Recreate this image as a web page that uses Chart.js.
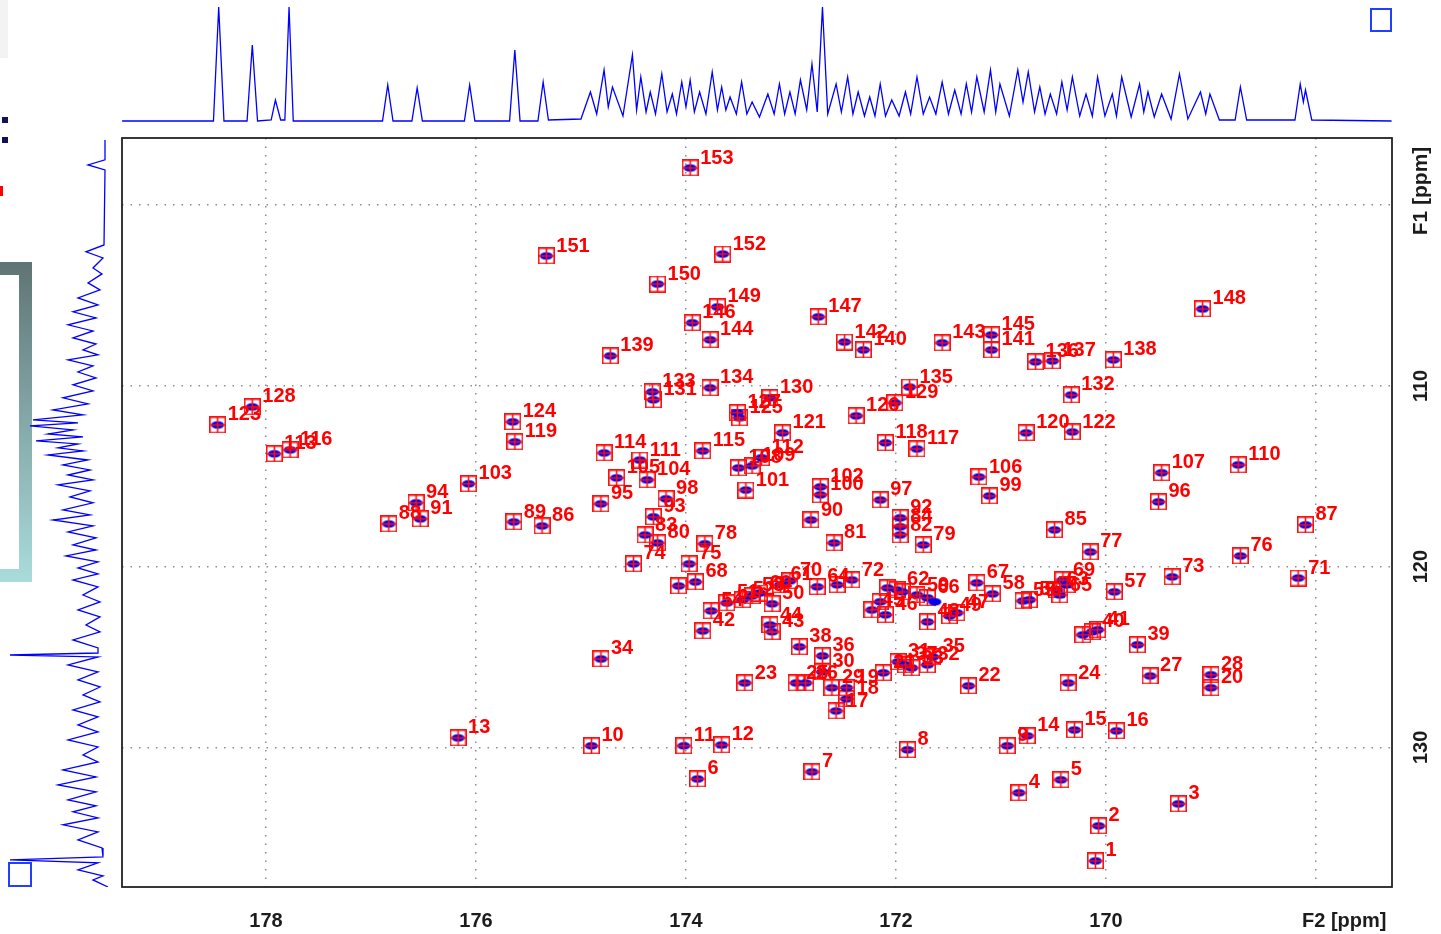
<!DOCTYPE html>
<html>
<head>
<meta charset="utf-8">
<script src="https://cdn.jsdelivr.net/npm/chart.js@4.4.0/dist/chart.umd.min.js"></script>
<style>
  html, body { margin: 0; padding: 0; background: #fff; }
  body { width: 1441px; height: 934px; position: relative; overflow: hidden; }
  canvas { position: absolute; }
  #main { left: 0; top: 0; }
  #top { left: 122px; top: 0; }
  #side { left: 0; top: 138px; }
  .deco { position: absolute; box-sizing: border-box; }
</style>
</head>
<body>
<div class="deco" style="left:0;top:0;width:8px;height:58px;background:#f3f3f3"></div>
<div class="deco" style="left:0;top:262px;width:32px;height:320px;background:linear-gradient(#5f7474,#aadcdc)"></div>
<div class="deco" style="left:0;top:275px;width:19px;height:294px;background:#fff"></div>
<div class="deco" style="left:2px;top:117px;width:6px;height:6px;background:#101060"></div>
<div class="deco" style="left:2px;top:137px;width:6px;height:6px;background:#101060"></div>
<div class="deco" style="left:0;top:186px;width:3px;height:10px;background:#f00"></div>
<div class="deco" style="left:1370px;top:8px;width:22px;height:24px;border:2px solid #2040ff"></div>
<div class="deco" style="left:8px;top:862px;width:24px;height:25px;border:2px solid #2040ff"></div>
<canvas id="main" width="1441" height="934"></canvas>
<canvas id="top" width="1270" height="125"></canvas>
<canvas id="side" width="122" height="749"></canvas>
<script>
// axis tick values
const f2Ticks = [178, 176, 174, 172, 170];
const f1Ticks = [110, 120, 130];
const f2Grid = [178, 176, 174, 172, 170, 168];
const f1Grid = [100, 110, 120, 130];

// picked peaks, peak n is at index n-1 (F2 ppm, F1 ppm)
const peakF2 = [
  170.10, 170.07, 169.31, 170.83, 170.43, 173.89, 172.80, 171.89, 170.94, 174.90,
  174.02, 173.66, 176.17, 170.75, 170.30, 169.90, 172.57, 172.47, 172.47, 169.00,
  172.12, 171.31, 173.44, 170.36, 172.95, 172.86, 169.58, 169.00, 172.61, 172.70,
  171.98, 171.70, 171.85, 174.81, 171.65, 172.70, 171.91, 172.92, 169.70, 170.13,
  170.08, 173.84, 173.18, 173.20, 172.23, 172.10, 171.42, 171.70, 171.49, 173.18,
  173.61, 173.46, 173.37, 173.76, 170.79, 170.73, 169.92, 171.08, 171.80, 173.30,
  173.10, 171.99, 170.47, 172.75, 170.44, 171.70, 171.23, 173.91, 170.41, 173.01,
  168.17, 172.42, 169.37, 174.50, 173.97, 168.72, 170.15, 173.82, 171.74, 174.27,
  172.59, 171.96, 174.39, 171.96, 170.49, 175.37, 168.10, 176.83, 175.64, 172.81,
  176.53, 171.96, 174.31, 176.57, 174.81, 169.50, 172.15, 174.19, 171.11, 172.72,
  173.43, 172.72, 176.07, 174.37, 174.66, 171.21, 169.47, 173.50, 173.37, 168.74,
  174.44, 173.28, 177.92, 174.78, 173.84, 177.77, 171.80, 172.10, 175.63, 170.76,
  173.08, 170.32, 178.46, 175.65, 173.49, 172.38, 173.51, 178.13, 172.01, 173.20,
  174.31, 170.33, 174.32, 173.77, 171.87, 170.67, 170.51, 169.93, 174.72, 172.31,
  171.09, 172.49, 171.56, 173.77, 171.09, 173.94, 172.74, 169.08, 173.70, 174.27,
  175.33, 173.65, 173.96
];
const peakF1 = [
  136.29, 134.35, 133.13, 132.52, 131.80, 131.75, 131.36, 130.14, 129.92, 129.92,
  129.92, 129.87, 129.48, 129.37, 129.04, 129.09, 127.99, 127.32, 126.71, 126.71,
  125.88, 126.60, 126.44, 126.44, 126.44, 126.44, 126.05, 125.99, 126.71, 125.83,
  125.27, 125.44, 125.61, 125.11, 125.00, 124.94, 125.44, 124.44, 124.33, 123.61,
  123.50, 123.56, 123.61, 123.23, 122.40, 122.67, 122.56, 123.06, 122.73, 122.06,
  122.01, 121.84, 121.62, 122.45, 121.90, 121.84, 121.40, 121.51, 121.57, 121.46,
  121.01, 121.29, 121.29, 121.12, 121.57, 121.73, 120.90, 120.85, 120.74, 120.79,
  120.63, 120.74, 120.57, 119.85, 119.85, 119.41, 119.19, 118.74, 118.80, 118.69,
  118.69, 118.25, 118.25, 117.80, 117.97, 117.75, 117.69, 117.64, 117.53, 117.42,
  117.36, 117.30, 117.25, 116.47, 116.53, 116.42, 116.31, 116.25, 116.09, 116.03,
  115.76, 115.59, 115.42, 115.20, 115.09, 115.04, 114.81, 114.54, 114.43, 114.37,
  114.10, 113.98, 113.76, 113.71, 113.60, 113.54, 113.49, 113.15, 113.10, 112.60,
  112.60, 112.55, 112.16, 111.99, 111.77, 111.66, 111.49, 111.16, 110.94, 110.66,
  110.77, 110.50, 110.33, 110.11, 110.06, 108.67, 108.62, 108.56, 108.34, 108.01,
  108.01, 107.57, 107.62, 107.45, 107.18, 106.51, 106.18, 105.74, 105.63, 104.36,
  102.81, 102.70, 97.94
];
// boxes whose labels are hidden under neighbours
const extraF2 = [174.07, 172.56, 172.08, 171.94, 172.15, 170.37, 170.22];
const extraF1 = [121.07, 121.01, 121.18, 121.40, 121.95, 121.01, 123.78];
// contour without a box
const loneF2 = [171.63];
const loneF1 = [121.95];

// F2 projection (top): ppm and height
const topF2 = [
  179.37, 178.50, 178.45, 178.40, 178.18, 178.13, 178.08, 177.95, 177.91, 177.86,
  177.82, 177.78, 177.74, 176.89, 176.84, 176.79, 176.61, 176.56, 176.51, 176.11,
  176.06, 176.01, 175.68, 175.63, 175.58, 175.41, 175.36, 175.31, 175.00,
  174.91, 174.85, 174.78, 174.74, 174.70, 174.60, 174.51, 174.47, 174.43, 174.38,
  174.34, 174.29, 174.23, 174.18, 174.13, 174.09, 174.04, 174.00, 173.96, 173.92,
  173.87, 173.81, 173.75, 173.70, 173.66, 173.62, 173.58, 173.52, 173.47, 173.42,
  173.37, 173.30, 173.22, 173.16, 173.11, 173.06, 173.01, 172.96, 172.91, 172.85,
  172.80, 172.75, 172.70, 172.65, 172.57, 172.52, 172.46, 172.41, 172.36, 172.30,
  172.25, 172.20, 172.15, 172.10, 172.04, 171.97, 171.91, 171.86, 171.80, 171.74,
  171.68, 171.62, 171.56, 171.50, 171.44, 171.38, 171.33, 171.28, 171.23, 171.16,
  171.10, 171.05, 171.01, 170.92, 170.84, 170.79, 170.74, 170.68, 170.63, 170.58,
  170.53, 170.47, 170.42, 170.37, 170.32, 170.25, 170.19, 170.13, 170.08, 170.01,
  169.94, 169.90, 169.85, 169.76, 169.68, 169.64, 169.60, 169.54, 169.47, 169.38,
  169.30, 169.22, 169.10, 169.05, 169.01, 168.92, 168.77, 168.72, 168.66, 168.20,
  168.15, 168.12, 168.10, 168.04, 167.28
];
const topHeight = [
  1, 1, 115, 1, 1, 77, 1, 2, 22, 2,
  2, 115, 1, 1, 37, 1, 1, 34, 1, 1,
  37, 1, 1, 72, 1, 1, 40, 2, 3,
  30, 8, 52, 15, 35, 6, 67, 12, 45, 10,
  30, 8, 48, 10, 28, 8, 40, 15, 42, 10,
  30, 8, 50, 12, 35, 12, 25, 8, 40, 8,
  20, 5, 28, 8, 38, 8, 30, 8, 42, 12,
  58, 10, 115, 8, 38, 10, 45, 8, 30, 6,
  25, 6, 38, 6, 22, 6, 30, 8, 45, 8,
  25, 8, 40, 8, 32, 8, 38, 10, 45, 10,
  52, 10, 38, 6, 52, 20, 50, 10, 35, 8,
  28, 8, 40, 12, 45, 6, 28, 6, 45, 6,
  28, 6, 45, 5, 38, 10, 30, 5, 28, 3,
  48, 3, 30, 8, 28, 2, 2, 35, 2, 2,
  38, 20, 32, 2, 1
];

// F1 projection (left): ppm and height
const sideF1 = [
  96.39, 97.49, 97.77, 98.05, 102.20, 102.58, 102.92, 103.47, 103.80, 104.30,
  104.69, 105.13, 105.52, 105.90, 106.24, 106.62, 106.96, 107.34, 107.68, 108.01,
  108.28, 108.56, 108.89, 109.23, 109.56, 109.94, 110.28, 110.66, 110.99, 111.33,
  111.60, 111.88, 112.05, 112.21, 112.43, 112.66, 112.82, 113.04, 113.21, 113.43,
  113.60, 113.82, 114.10, 114.37, 114.65, 114.93, 115.20, 115.48, 115.81, 116.14,
  116.47, 116.86, 117.14, 117.42, 117.75, 118.08, 118.41, 118.80, 119.08, 119.41,
  119.74, 120.07, 120.40, 120.74, 121.12, 121.57, 121.95, 122.40, 122.78, 123.23,
  123.61, 124.06, 124.50, 124.78, 124.89, 125.00, 125.44, 125.83, 126.27, 126.66,
  127.10, 127.49, 127.93, 128.32, 128.76, 129.15, 129.59, 129.98, 130.42, 130.81,
  131.25, 131.64, 132.08, 132.47, 132.91, 133.24, 133.57, 133.91, 134.29, 134.68,
  135.12, 135.57, 136.06, 136.23, 136.39, 136.78, 137.12, 137.34, 137.73
];
const sideHeight = [
  3, 3, 20, 3, 4, 22, 5, 15, 6, 20,
  8, 30, 10, 35, 12, 40, 15, 35, 12, 25,
  10, 40, 15, 30, 12, 35, 15, 45, 20, 55,
  25, 75, 30, 78, 35, 60, 25, 72, 30, 50,
  25, 60, 20, 45, 18, 40, 15, 50, 18, 38,
  15, 45, 18, 55, 15, 40, 12, 35, 12, 42,
  10, 30, 10, 35, 10, 25, 8, 30, 8, 22,
  8, 35, 10, 10, 98, 10, 40, 10, 30, 8,
  25, 8, 35, 10, 30, 10, 40, 10, 25, 10,
  45, 12, 50, 12, 40, 12, 35, 10, 45, 10,
  30, 6, 5, 98, 10, 30, 5, 15, 0
];

const F2_MIN = 167.276, F2_MAX = 179.371;
const F1_MIN = 96.28, F1_MAX = 137.73;

// peak marker: blue contour blob, red box with cross
function makeMarker(withBox) {
  const c = document.createElement('canvas');
  c.width = 17; c.height = 17;
  const g = c.getContext('2d');
  g.fillStyle = '#0000ee';
  g.beginPath();
  g.ellipse(8.5, 8.5, 6.5, 3.8, 0, 0, Math.PI * 2);
  g.fill();
  if (withBox) {
    g.strokeStyle = '#ff1010';
    g.lineWidth = 1.6;
    g.strokeRect(0.8, 0.8, 15.4, 15.4);
    g.beginPath();
    g.moveTo(8.5, 0.5); g.lineTo(8.5, 16.5);
    g.moveTo(0.5, 8.5); g.lineTo(16.5, 8.5);
    g.stroke();
  }
  return c;
}
const boxMarker = makeMarker(true);
const blobMarker = makeMarker(false);

const toPoints = (xs, ys) => xs.map((v, i) => ({ x: v, y: ys[i] }));

const textFont = 'bold 20px "Liberation Sans", Arial, sans-serif';

const overlay = {
  id: 'overlay',
  afterDatasetsDraw(chart) {
    const { ctx, scales: { x, y } } = chart;
    ctx.save();
    ctx.font = textFont;
    ctx.fillStyle = '#ff0000';
    ctx.textBaseline = 'middle';
    peakF2.forEach((v, i) => {
      ctx.fillText(String(i + 1), x.getPixelForValue(v) + 10, y.getPixelForValue(peakF1[i]) - 10);
    });
    ctx.restore();
  },
  afterDraw(chart) {
    const { ctx, chartArea: a, scales: { x, y } } = chart;
    ctx.save();
    ctx.strokeStyle = '#222';
    ctx.lineWidth = 1.8;
    ctx.strokeRect(a.left, a.top, a.right - a.left, a.bottom - a.top);

    ctx.font = textFont;
    ctx.fillStyle = '#1c1c1c';
    ctx.textBaseline = 'middle';
    ctx.textAlign = 'center';
    f2Ticks.forEach(v => ctx.fillText(String(v), x.getPixelForValue(v), 921));
    ctx.textAlign = 'left';
    ctx.fillText('F2 [ppm]', 1302, 921);

    ctx.textAlign = 'center';
    f1Ticks.forEach(v => {
      ctx.save();
      ctx.translate(1421, y.getPixelForValue(v));
      ctx.rotate(-Math.PI / 2);
      ctx.fillText(String(v), 0, 0);
      ctx.restore();
    });
    ctx.save();
    ctx.translate(1421, 191);
    ctx.rotate(-Math.PI / 2);
    ctx.font = 'bold 21px "Liberation Sans", Arial, sans-serif';
    ctx.fillText('F1 [ppm]', 0, 0);
    ctx.restore();
    ctx.restore();
  }
};

new Chart(document.getElementById('main'), {
  type: 'scatter',
  data: {
    datasets: [
      { data: toPoints(loneF2, loneF1), pointStyle: blobMarker },
      { data: toPoints(extraF2, extraF1), pointStyle: boxMarker },
      { data: toPoints(peakF2, peakF1), pointStyle: boxMarker }
    ]
  },
  options: {
    responsive: false,
    animation: false,
    devicePixelRatio: 1,
    layout: { padding: { left: 122, top: 138, right: 0, bottom: 0 } },
    plugins: { legend: { display: false }, tooltip: { enabled: false } },
    scales: {
      x: {
        type: 'linear', position: 'bottom', reverse: true,
        min: F2_MIN, max: F2_MAX,
        afterBuildTicks: s => { s.ticks = f2Grid.map(v => ({ value: v })); },
        afterFit: s => { s.height = 47; },
        ticks: { display: false },
        grid: { color: '#8c8c8c', lineWidth: 1.5, drawTicks: false },
        border: { display: false, dash: [1.5, 7] }
      },
      y: {
        type: 'linear', position: 'right', reverse: true,
        min: F1_MIN, max: F1_MAX,
        afterBuildTicks: s => { s.ticks = f1Grid.map(v => ({ value: v })); },
        afterFit: s => { s.width = 49; },
        ticks: { display: false },
        grid: { color: '#8c8c8c', lineWidth: 1.5, drawTicks: false },
        border: { display: false, dash: [1.5, 7] }
      }
    }
  },
  plugins: [overlay]
});

// top projection along F2
new Chart(document.getElementById('top'), {
  type: 'scatter',
  data: {
    datasets: [{
      data: toPoints(topF2, topHeight),
      showLine: true, borderColor: '#0000ff', borderWidth: 1.3,
      pointRadius: 0, tension: 0
    }]
  },
  options: {
    responsive: false, animation: false, devicePixelRatio: 1,
    plugins: { legend: { display: false }, tooltip: { enabled: false } },
    scales: {
      x: { type: 'linear', display: false, reverse: true, min: F2_MIN, max: F2_MAX },
      y: { type: 'linear', display: false, min: -3, max: 122 }
    }
  }
});

// left projection along F1
new Chart(document.getElementById('side'), {
  type: 'scatter',
  data: {
    datasets: [{
      data: sideHeight.map((h, i) => ({ x: h, y: sideF1[i] })),
      showLine: true, borderColor: '#0000ff', borderWidth: 1.3,
      pointRadius: 0, tension: 0
    }]
  },
  options: {
    responsive: false, animation: false, devicePixelRatio: 1,
    plugins: { legend: { display: false }, tooltip: { enabled: false } },
    scales: {
      x: { type: 'linear', display: false, reverse: true, min: -14, max: 108 },
      y: { type: 'linear', display: false, reverse: true, min: F1_MIN, max: F1_MAX }
    }
  }
});
</script>
</body>
</html>
